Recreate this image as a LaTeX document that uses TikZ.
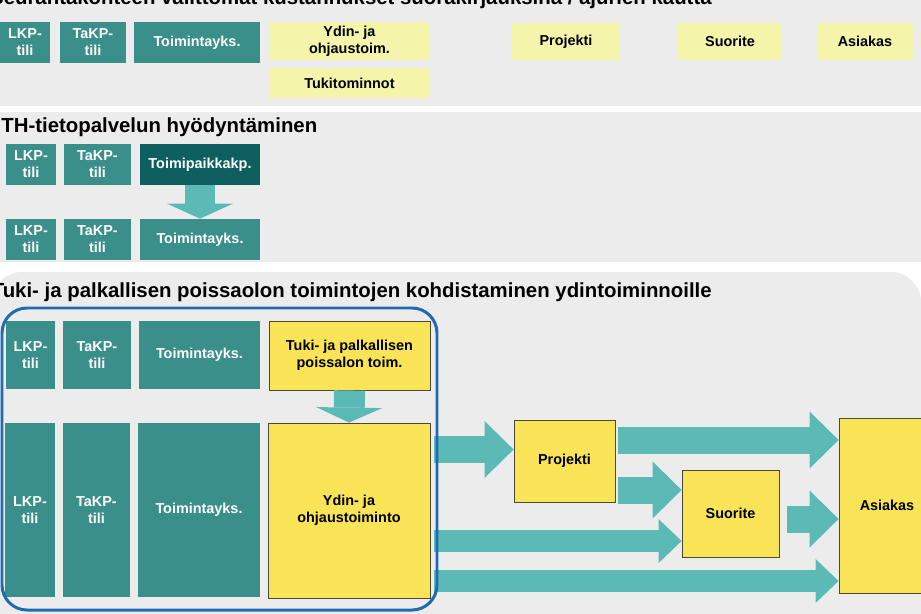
\documentclass[tikz,border=0pt]{standalone}
\usepackage{fontspec}
\setmainfont{Liberation Sans}
\usetikzlibrary{arrows.meta,positioning}

\definecolor{panelgray}{HTML}{ECECEC}
\definecolor{boxteal}{HTML}{3A8F8B}
\definecolor{darkteal}{HTML}{0E5F60}
\definecolor{arrowteal}{HTML}{5CBAB6}
\definecolor{paleyellow}{HTML}{F4F4AA}
\definecolor{boxyellow}{HTML}{F8E456}
\definecolor{frameblue}{HTML}{1F6BB2}
\definecolor{edgegray}{HTML}{4A4838}

\newcommand{\boxfont}{\fontsize{8.2}{9.6}\selectfont\bfseries}
\newcommand{\titlefont}{\fontsize{11.6}{13}\selectfont\bfseries}

\tikzset{
  tealbox/.style = {fill=boxteal, text=white, font=\boxfont, align=center, inner sep=0pt},
  darkbox/.style = {tealbox, fill=darkteal},
  paleybox/.style = {fill=paleyellow, text=black, font=\boxfont, align=center, inner sep=0pt},
  ybox/.style = {fill=boxyellow, draw=edgegray, line width=0.5pt, text=black, font=\boxfont, align=center, inner sep=0pt},
  sectitle/.style = {font=\titlefont, inner sep=0pt},
  bigarrow/.style = {draw=arrowteal, line width=0.54cm, -{Triangle[width=1.14cm,length=0.58cm,line width=0pt]}},
  smallarrow/.style = {draw=arrowteal, line width=0.44cm, -{Triangle[width=0.88cm,length=0.46cm,line width=0pt]}},
  downarrow/.style = {draw=arrowteal, line width=0.62cm, -{Triangle[width=1.32cm,length=0.3cm,line width=0pt]}}
}

\begin{document}
\begin{tikzpicture}[x=0.02cm, y=-0.02cm]
    \useasboundingbox (0,0) rectangle (921,613);
    \clip (0,0) rectangle (921,613);
    \fill[white] (0,0) rectangle (921,613);

    % panels
    \fill[panelgray] (-10,-10) rectangle (930,106);
    \fill[panelgray] (-10,112) rectangle (930,262);
    \fill[panelgray, rounded corners=0.6cm] (-8,272) rectangle (921,650);

    % direct costs
    \node[sectitle, anchor=base east](titleA) at (712,4) {Seurantakohteen välittömät kustannukset suorakirjauksina / ajurien kautta};
    \node[tealbox, minimum width=1cm, minimum height=0.82cm, align=center](lkpA) at (25,42.5) {LKP-\\tili};
    \node[tealbox, minimum width=1.32cm, minimum height=0.82cm](takpA) at (93,42.5) {TaKP-\\tili};
    \node[tealbox, minimum width=2.52cm, minimum height=0.82cm](toimA) at (197,42.5) {Toimintayks.};
    \node[paleybox, minimum width=3.22cm, minimum height=0.76cm](ydinA) at (349.5,41) {Ydin- ja\\ohjaustoim.};
    \node[paleybox, minimum width=3.22cm, minimum height=0.6cm](tukiA) at (349.5,83) {Tukitominnot};
    \node[paleybox, minimum width=2.16cm, minimum height=0.74cm](projA) at (566,41.5) {Projekti};
    \node[paleybox, minimum width=2.08cm, minimum height=0.74cm](suorA) at (730,41.5) {Suorite};
    \node[paleybox, minimum width=1.92cm, minimum height=0.74cm](asiaA) at (865,41.5) {Asiakas};

    % TH service
    \node[sectitle, anchor=base west](titleB) at (1,132) {TH-tietopalvelun hyödyntäminen};
    \node[tealbox, minimum width=1cm, minimum height=0.82cm](lkpB) at (31,164.5) {LKP-\\tili};
    \node[tealbox, minimum width=1.34cm, minimum height=0.82cm](takpB) at (97.5,164.5) {TaKP-\\tili};
    \node[darkbox, minimum width=2.4cm, minimum height=0.82cm](toimipB) at (200,164.5) {Toimipaikkakp.};
    \node[tealbox, minimum width=1cm, minimum height=0.82cm](lkpC) at (31,239.5) {LKP-\\tili};
    \node[tealbox, minimum width=1.34cm, minimum height=0.82cm](takpC) at (97.5,239.5) {TaKP-\\tili};
    \node[tealbox, minimum width=2.4cm, minimum height=0.82cm](toimC) at (200,239.5) {Toimintayks.};
    \draw[downarrow] (toimipB.south) -- (toimC.north);

    % allocation of support functions
    \node[sectitle, anchor=base east](titleC) at (712,297) {Tuki- ja palkallisen poissaolon toimintojen kohdistaminen ydintoiminnoille};
    \node[tealbox, minimum width=0.98cm, minimum height=1.36cm](lkpD) at (30.5,355) {LKP-\\tili};
    \node[tealbox, minimum width=1.36cm, minimum height=1.36cm](takpD) at (97,355) {TaKP-\\tili};
    \node[tealbox, minimum width=2.42cm, minimum height=1.36cm](toimD) at (199.5,355) {Toimintayks.};
    \node[ybox, minimum width=3.22cm, minimum height=1.38cm](tukiD) at (349.5,355.5) {Tuki- ja palkallisen\\poissalon toim.};
    \node[tealbox, minimum width=1cm, minimum height=3.48cm](lkpE) at (30,510) {LKP-\\tili};
    \node[tealbox, minimum width=1.34cm, minimum height=3.48cm](takpE) at (96.5,510) {TaKP-\\tili};
    \node[tealbox, minimum width=2.44cm, minimum height=3.48cm](toimE) at (199,510) {Toimintayks.};
    \node[ybox, minimum width=3.24cm, minimum height=3.5cm](ydinE) at (349,510.5) {Ydin- ja\\ohjaustoiminto};
    \node[ybox, minimum width=2.02cm, minimum height=1.64cm](projE) at (564.5,461) {Projekti};
    \node[ybox, minimum width=1.94cm, minimum height=1.74cm](suorE) at (730.5,513.5) {Suorite};
    \node[ybox, minimum width=1.92cm, minimum height=3.5cm](asiaE) at (887,505.5) {Asiakas};

    \draw[downarrow] (tukiD.south) -- (ydinE.north);

    \coordinate (fromYdinA) at (434,449.5);
    \coordinate (fromYdinB) at (434,541);
    \coordinate (fromYdinC) at (434,581);
    \coordinate (fromProjA) at (618,440);
    \coordinate (fromProjB) at (618,490);
    \coordinate (fromSuor) at (787,519);
    \draw[bigarrow] (fromYdinA) -- (fromYdinA -| projE.west);
    \draw[bigarrow] (fromProjA) -- (fromProjA -| asiaE.west);
    \draw[bigarrow] (fromProjB) -- (fromProjB -| suorE.west);
    \draw[bigarrow] (fromSuor) -- (fromSuor -| asiaE.west);
    \draw[smallarrow] (fromYdinB) -- (fromYdinB -| suorE.west);
    \draw[smallarrow] (fromYdinC) -- (fromYdinC -| asiaE.west);

    \draw[frameblue, line width=1.7pt, rounded corners=0.5cm] (2,308) rectangle (437,610);
\end{tikzpicture}
\end{document}
